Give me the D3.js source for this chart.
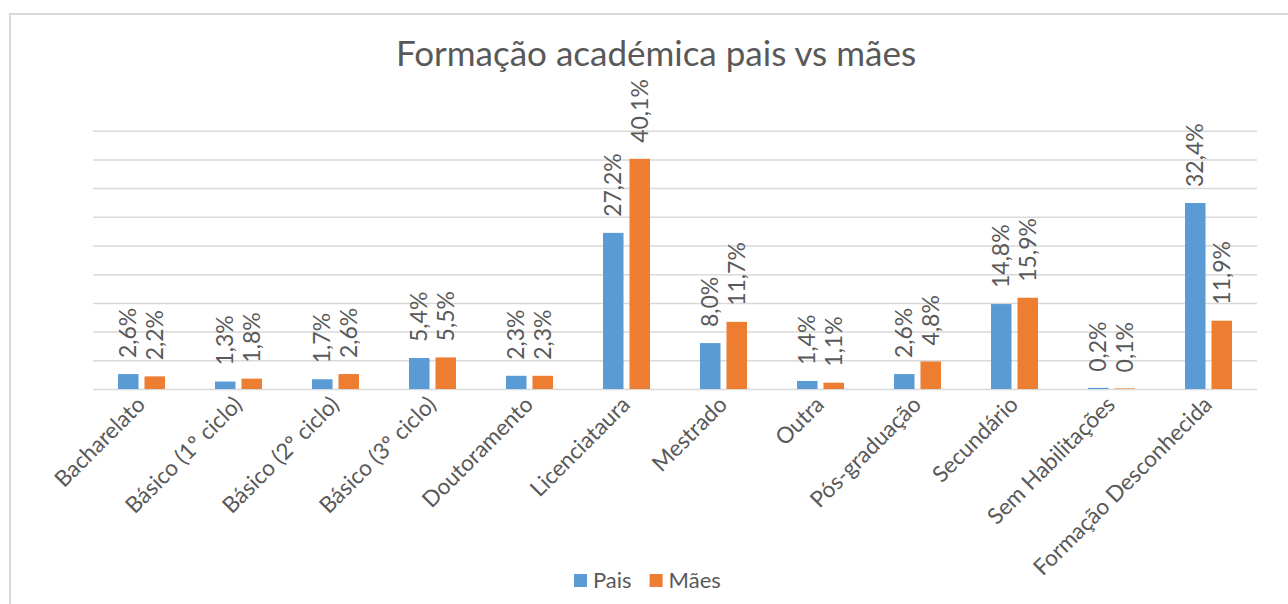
<!DOCTYPE html>
<html>
<head>
<meta charset="utf-8">
<script src="https://cdn.jsdelivr.net/npm/d3@7"></script>
<style>
  body { margin: 0; background: #fff; }
  text { font-family: Lato, "Open Sans", sans-serif; fill: #595959; }
</style>
</head>
<body>
<div id="chart"></div>
<script>
var categories = ["Bacharelato", "Básico (1º ciclo)", "Básico (2º ciclo)", "Básico (3º ciclo)",
    "Doutoramento", "Licenciataura", "Mestrado", "Outra", "Pós-graduação", "Secundário",
    "Sem Habilitações", "Formação Desconhecida"];
var pais = [2.6, 1.3, 1.7, 5.4, 2.3, 27.2, 8.0, 1.4, 2.6, 14.8, 0.2, 32.4];
var maes = [2.2, 1.8, 2.6, 5.5, 2.3, 40.1, 11.7, 1.1, 4.8, 15.9, 0.1, 11.9];
var seriesNames = ["Pais", "Mães"];
var colors = ["#5B9BD5", "#ED7D31"];
var gridTicks = [0, 5, 10, 15, 20, 25, 30, 35, 40, 45];

var W = 1288, H = 604;
var margin = { top: 130.7, right: 31, bottom: 215, left: 93 },
    width = W - margin.left - margin.right,
    height = H - margin.top - margin.bottom;

var svg = d3.select("#chart")
    .append("svg")
    .attr("width", W)
    .attr("height", H);

// chart border (only top and left visible in the picture)
svg.append("rect")
    .attr("x", 10).attr("y", 14)
    .attr("width", W).attr("height", H)
    .style("fill", "none")
    .style("stroke", "#d9d9d9")
    .style("stroke-width", 2);

svg.append("text")
    .attr("x", 656)
    .attr("y", 66)
    .attr("text-anchor", "middle")
    .style("font-size", "35px")
    .text("Formação académica pais vs mães");

var g = svg.append("g")
    .attr("transform", "translate(" + margin.left + "," + margin.top + ")");

var x = d3.scaleBand().domain(categories).range([0, width]).padding(0);
var xs = d3.scaleBand().domain(seriesNames).range([25, 72]).paddingInner(0.226);
var y = d3.scaleLinear().domain([0, 45]).range([height, 0]);

// gridlines
g.append("g")
    .attr("class", "grid")
    .call(d3.axisLeft(y).tickValues(gridTicks).tickSize(-width).tickFormat(""))
    .call(function (s) {
        s.select(".domain").remove();
        s.selectAll("line").style("stroke", "#d9d9d9").style("stroke-width", 1.5);
    });

var data = [];
categories.forEach(function (c, i) {
    data.push({ cat: c, s: "Pais", v: pais[i] });
    data.push({ cat: c, s: "Mães", v: maes[i] });
});

var fmt = d3.format(".1f");

g.selectAll(".bar")
    .data(data)
    .enter()
    .append("rect")
    .attr("class", "bar")
    .attr("x", function (d) { return x(d.cat) + xs(d.s); })
    .attr("y", function (d) { return y(d.v); })
    .attr("width", xs.bandwidth())
    .attr("height", function (d) { return height - y(d.v); })
    .style("fill", function (d) { return colors[seriesNames.indexOf(d.s)]; });

// value labels, rotated
g.selectAll(".lbl")
    .data(data)
    .enter()
    .append("text")
    .attr("class", "lbl")
    .attr("transform", function (d) {
        var cx = x(d.cat) + xs(d.s) + xs.bandwidth() / 2;
        return "translate(" + cx + "," + (y(d.v) - 16) + ") rotate(-90)";
    })
    .attr("dy", "0.35em")
    .style("font-size", "23px")
    .text(function (d) { return fmt(d.v).replace(".", ",") + "%"; });

// category axis
var xAxis = g.append("g")
    .attr("transform", "translate(0," + height + ")")
    .call(d3.axisBottom(x).tickSize(0).tickPadding(0));
xAxis.select(".domain").remove();
xAxis.selectAll("text")
    .style("font-size", "22.5px")
    .style("fill", "#595959")
    .style("font-family", "Lato, sans-serif")
    .attr("text-anchor", "end")
    .attr("dy", null)
    .attr("y", 0)
    .attr("transform", "translate(5,17) rotate(-45)");

// legend
var legend = svg.append("g").attr("transform", "translate(574,574)");
var lx = 0;
seriesNames.forEach(function (name, i) {
    var it = legend.append("g").attr("transform", "translate(" + lx + ",0)");
    it.append("rect").attr("width", 13).attr("height", 13).style("fill", colors[i]);
    var t = it.append("text").attr("x", 19).attr("y", 14).style("font-size", "22px").text(name);
    lx += 19 + t.node().getComputedTextLength() + 18;
});
</script>
</body>
</html>
